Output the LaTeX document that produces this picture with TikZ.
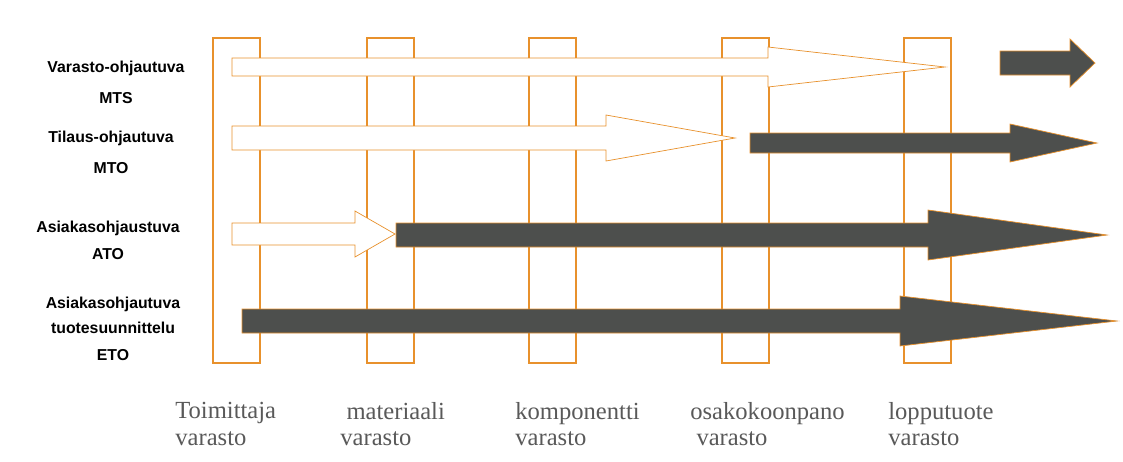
\documentclass[tikz,border=0pt]{standalone}
\usepackage{fontspec}
\setmainfont{Liberation Serif}
\newfontfamily\labfont{Liberation Sans}
\definecolor{varorange}{HTML}{E8912C}
\definecolor{vardark}{HTML}{4D4F4D}
\definecolor{vargrey}{HTML}{595959}
\tikzset{
	stock/.style={draw=varorange, thick},
	whitearrow/.style={draw=varorange, fill=white},
	darkarrow/.style={draw=varorange, fill=vardark},
	rowlabel/.style={font=\labfont\bfseries\small, align=center},
	stocklabel/.style={font=\fontsize{14}{15}\selectfont, text=vargrey, align=left, anchor=north west, inner sep=0pt}
}
% #1 style, #2 start x, #3 head start x, #4 tip x, #5 centre y, #6 shaft half, #7 head half
\newcommand{\blockarrow}[7]{\draw[#1] (#2,#5-#6) -- (#3,#5-#6) -- (#3,#5-#7) -- (#4,#5) -- (#3,#5+#7) -- (#3,#5+#6) -- (#2,#5+#6) -- cycle;}
\begin{document}
\begin{tikzpicture}[x=0.02cm, y=-0.02cm]
	\useasboundingbox (0,0) rectangle (1123,461);
	% stock columns
	\foreach \x in {213,367,529,722,904}{\draw[stock] (\x,38) rectangle (\x+47,363);};
	% MTS
	\blockarrow{whitearrow}{232}{768}{945}{67}{9}{20}
	\blockarrow{darkarrow}{1000}{1070}{1095}{63}{12}{24}
	% MTO
	\blockarrow{whitearrow}{232}{606}{735}{138}{12}{23}
	\blockarrow{darkarrow}{750}{1010}{1097}{143}{10}{19}
	% ATO
	\blockarrow{whitearrow}{232}{355}{395}{234}{11}{23}
	\blockarrow{darkarrow}{396}{928}{1107}{235}{12}{25}
	% ETO
	\blockarrow{darkarrow}{242}{900}{1117}{321}{12}{25}
	% row labels
	\node[rowlabel] (mts) at (116,68) {Varasto-ohjautuva};
	\node[rowlabel] (mtsb) at (116,98) {MTS};
	\node[rowlabel] (mto) at (111,138) {Tilaus-ohjautuva};
	\node[rowlabel] (mtob) at (111,168) {MTO};
	\node[rowlabel] (ato) at (108,228) {Asiakasohjaustuva};
	\node[rowlabel] (atob) at (108,254) {ATO};
	\node[rowlabel] (eto) at (113,304) {Asiakasohjautuva};
	\node[rowlabel] (etob) at (113,328) {tuotesuunnittelu};
	\node[rowlabel] (etoc) at (113,355) {ETO};
	% stock labels
	\node[stocklabel] (toim) at (175,402) {Toimittaja\\varasto};
	\node[stocklabel] (mat) at (340,402) {\ materiaali\\varasto};
	\node[stocklabel] (komp) at (515,402) {komponentti\\varasto};
	\node[stocklabel] (osa) at (690,402) {osakokoonpano\\\ varasto};
	\node[stocklabel] (lopp) at (888,402) {lopputuote\\varasto};
\end{tikzpicture}
\end{document}
